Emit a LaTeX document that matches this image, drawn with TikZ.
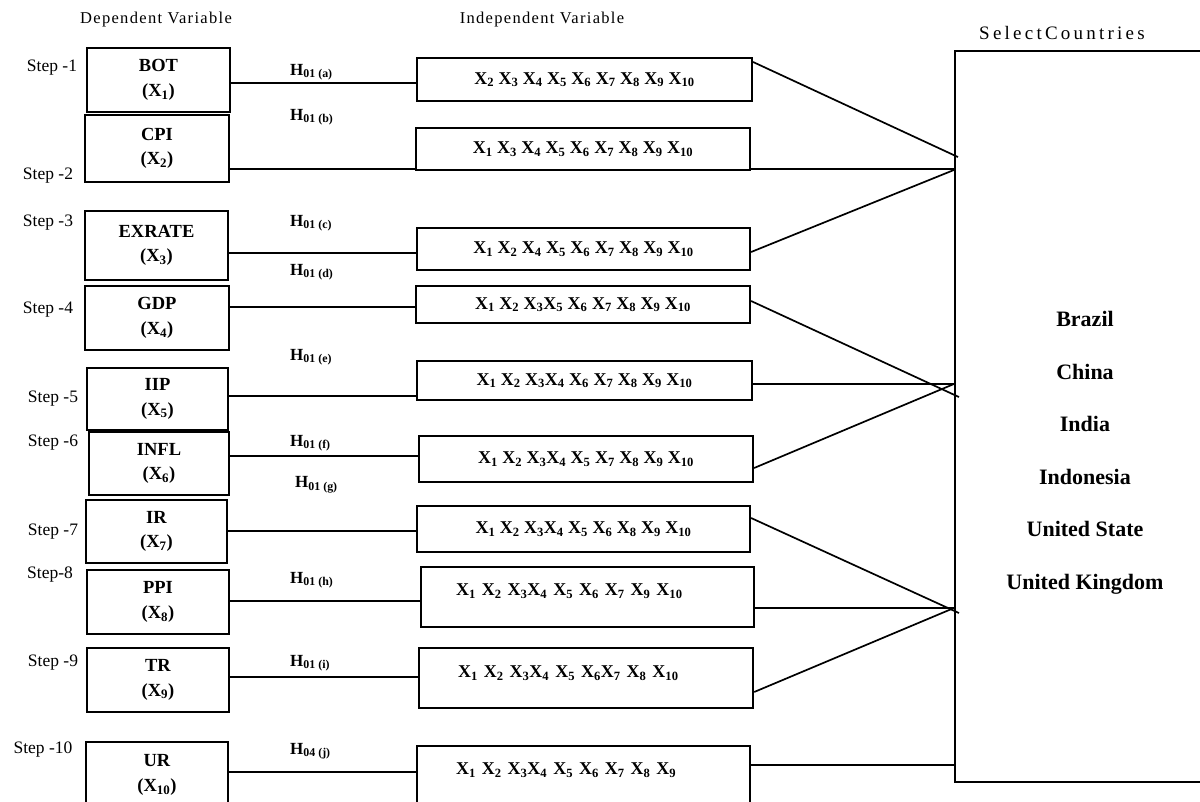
\documentclass[tikz,border=0pt]{standalone}
\usepackage{fontspec}
\setmainfont{Liberation Serif}
\newfontfamily\hdrfont[LetterSpace=8]{Liberation Serif}
\newfontfamily\selfont[LetterSpace=17]{Liberation Serif}
\newcommand\Xs[1]{X\textsubscript{#1}}
\newcommand\Hs[1]{H\textsubscript{#1}}
\tikzset{
  depbox/.style={draw, line width=2.2pt, inner sep=0pt, align=center,
    font=\fontsize{18.5}{24.5}\selectfont\bfseries},
  indbox/.style={draw, line width=2.2pt, inner sep=0pt,
    font=\fontsize{18}{22}\selectfont\bfseries},
  conn/.style={line width=1.7pt},
  steplbl/.style={inner sep=0pt, font=\fontsize{17.5}{20}\selectfont},
  hlbl/.style={anchor=west, inner sep=0pt, font=\fontsize{17}{20}\selectfont\bfseries},
  hdr/.style={inner sep=0pt, font=\fontsize{16.5}{20}\selectfont\hdrfont},
  ctry/.style={inner sep=0pt, align=center, font=\fontsize{22}{52.5}\selectfont\bfseries},
}
\begin{document}
\begin{tikzpicture}[x=1pt,y=-1pt]
\useasboundingbox (0,0) rectangle (1200,801);
\clip (0,0) rectangle (1200,801);
\fill[white] (0,0) rectangle (1200,801);

% headers
\node[hdr] (hdep) at (156,20) {Dependent Variable};
\node[hdr] (hind) at (542,20) {Independent Variable};
\node[inner sep=0pt, font=\fontsize{19}{22}\selectfont\selfont] (hsel) at (1062,33) {SelectCountries};

% dependent boxes
\node[depbox, minimum width=143pt, minimum height=64pt] (d1) at (158.5,80) {BOT\\(\Xs1)};
\node[depbox, minimum width=144pt, minimum height=67pt] (d2) at (157,148.5) {CPI\\(\Xs2)};
\node[depbox, minimum width=143pt, minimum height=69pt] (d3) at (156.5,245.5) {EXRATE\\(\Xs3)};
\node[depbox, minimum width=144pt, minimum height=64pt] (d4) at (157,318) {GDP\\(\Xs4)};
\node[depbox, minimum width=141pt, minimum height=62pt] (d5) at (157.5,399) {IIP\\(\Xs5)};
\node[depbox, minimum width=140pt, minimum height=63pt] (d6) at (159,463.5) {INFL\\(\Xs6)};
\node[depbox, minimum width=141pt, minimum height=63pt] (d7) at (156.5,531.5) {IR\\(\Xs7)};
\node[depbox, minimum width=142pt, minimum height=64pt] (d8) at (158,602) {PPI\\(\Xs8)};
\node[depbox, minimum width=142pt, minimum height=64pt] (d9) at (158,680) {TR\\(\Xs9)};
\node[depbox, minimum width=142pt, minimum height=66pt] (d10) at (157,775) {UR\\(\Xs{10})};

% step labels
\node[steplbl] (s1) at (52,68) {Step -1};
\node[steplbl] (s2) at (48,176) {Step -2};
\node[steplbl] (s3) at (48,223) {Step -3};
\node[steplbl] (s4) at (48,310) {Step -4};
\node[steplbl] (s5) at (53,399) {Step -5};
\node[steplbl] (s6) at (53,443) {Step -6};
\node[steplbl] (s7) at (53,532) {Step -7};
\node[steplbl] (s8) at (50,575) {Step-8};
\node[steplbl] (s9) at (53,663) {Step -9};
\node[steplbl] (s10) at (43,750) {Step -10};

% independent boxes
\node[indbox, minimum width=335pt, minimum height=43pt] (i1) at (584.5,79.5) {\Xs2 \Xs3 \Xs4 \Xs5 \Xs6 \Xs7 \Xs8 \Xs9 \Xs{10}};
\node[indbox, minimum width=334pt, minimum height=42pt] (i2) at (583,149) {\Xs1 \Xs3 \Xs4 \Xs5 \Xs6 \Xs7 \Xs8 \Xs9 \Xs{10}};
\node[indbox, minimum width=333pt, minimum height=42pt] (i3) at (583.5,249) {\Xs1 \Xs2 \Xs4 \Xs5 \Xs6 \Xs7 \Xs8 \Xs9 \Xs{10}};
\node[indbox, minimum width=334pt, minimum height=37pt] (i4) at (583,304.5) {\Xs1 \Xs2 \Xs3\Xs5 \Xs6 \Xs7 \Xs8 \Xs9 \Xs{10}};
\node[indbox, minimum width=335pt, minimum height=39pt] (i5) at (584.5,380.5) {\Xs1 \Xs2 \Xs3\Xs4 \Xs6 \Xs7 \Xs8 \Xs9 \Xs{10}};
\node[indbox, minimum width=334pt, minimum height=46pt] (i6) at (586,459) {\Xs1 \Xs2 \Xs3\Xs4 \Xs5 \Xs7 \Xs8 \Xs9 \Xs{10}};
\node[indbox, minimum width=333pt, minimum height=46pt] (i7) at (583.5,529) {\Xs1 \Xs2 \Xs3\Xs4 \Xs5 \Xs6 \Xs8 \Xs9 \Xs{10}};
\node[indbox, anchor=north west, text width=333pt, align=left, text height=28.5pt, text depth=31.5pt] (i8) at (420,566) {\hspace*{35pt}\Xs1 \Xs2 \Xs3\Xs4 \Xs5 \Xs6 \Xs7 \Xs9 \Xs{10}};
\node[indbox, anchor=north west, text width=334pt, align=left, text height=29.5pt, text depth=30.5pt] (i9) at (418,647) {\hspace*{39pt}\Xs1 \Xs2 \Xs3\Xs4 \Xs5 \Xs6\Xs7 \Xs8 \Xs{10}};
\node[indbox, anchor=north west, text width=333pt, align=left, text height=28.5pt, text depth=41.5pt] (i10) at (416,745) {\hspace*{39pt}\Xs1 \Xs2 \Xs3\Xs4 \Xs5 \Xs6 \Xs7 \Xs8 \Xs9};

% hypothesis labels
\node[hlbl] (h1) at (290,72) {\Hs{01 (a)}};
\node[hlbl] (h2) at (290,117) {\Hs{01 (b)}};
\node[hlbl] (h3) at (290,223) {\Hs{01 (c)}};
\node[hlbl] (h4) at (290,272) {\Hs{01 (d)}};
\node[hlbl] (h5) at (290,357) {\Hs{01 (e)}};
\node[hlbl] (h6) at (290,443) {\Hs{01 (f)}};
\node[hlbl] (h7) at (295,485) {\Hs{01 (g)}};
\node[hlbl] (h8) at (290,580) {\Hs{01 (h)}};
\node[hlbl] (h9) at (290,663) {\Hs{01 (i)}};
\node[hlbl] (h10) at (290,751) {\Hs{04 (j)}};

% select countries box
\node[draw, line width=2.2pt, minimum width=260pt, minimum height=731pt, inner sep=0pt] (sel) at (1085,416.5) {};
\node[ctry] (ctr) at (1085,453) {Brazil\\China\\India\\Indonesia\\United State\\United Kingdom};

% contact points on the select box
\coordinate (a1) at ([xshift=4pt]sel.west |- 0,157);
\coordinate (a2) at (sel.west |- 0,169);
\coordinate (a3) at (sel.west |- 0,170);
\coordinate (a4) at ([xshift=5pt]sel.west |- 0,397);
\coordinate (a5) at ([xshift=2pt]sel.west |- 0,384);
\coordinate (a6) at (sel.west |- 0,384);
\coordinate (a7) at ([xshift=5pt]sel.west |- 0,613);
\coordinate (a8) at (sel.west |- 0,608);
\coordinate (a9) at (sel.west |- 0,608);
\coordinate (a10) at (sel.west |- 0,765);

% dependent -> independent
\draw[conn] (d1.east |- 0,83) -- (i1.west |- 0,83);
\draw[conn] (d2.east |- 0,169) -- (i2.west |- 0,169);
\draw[conn] (d3.east |- 0,253) -- (i3.west |- 0,253);
\draw[conn] (d4.east |- 0,307) -- (i4.west |- 0,307);
\draw[conn] (d5.east |- 0,396) -- (i5.west |- 0,396);
\draw[conn] (d6.east |- 0,456) -- (i6.west |- 0,456);
\draw[conn] (d7.east |- 0,531) -- (i7.west |- 0,531);
\draw[conn] (d8.east |- 0,601) -- (i8.west |- 0,601);
\draw[conn] (d9.east |- 0,677) -- (i9.west |- 0,677);
\draw[conn] (d10.east |- 0,772) -- (i10.west |- 0,772);

% independent -> select countries
\draw[conn] (i1.east |- 0,62) -- (a1);
\draw[conn] (i2.east |- 0,169) -- (a2);
\draw[conn] (i3.east |- 0,252) -- (a3);
\draw[conn] (i4.east |- 0,301) -- (a4);
\draw[conn] (i5.east |- 0,384) -- (a5);
\draw[conn] (i6.east |- 0,468) -- (a6);
\draw[conn] (i7.east |- 0,518) -- (a7);
\draw[conn] (i8.east |- 0,608) -- (a8);
\draw[conn] (i9.east |- 0,692) -- (a9);
\draw[conn] (i10.east |- 0,765) -- (a10);
\end{tikzpicture}
\end{document}
